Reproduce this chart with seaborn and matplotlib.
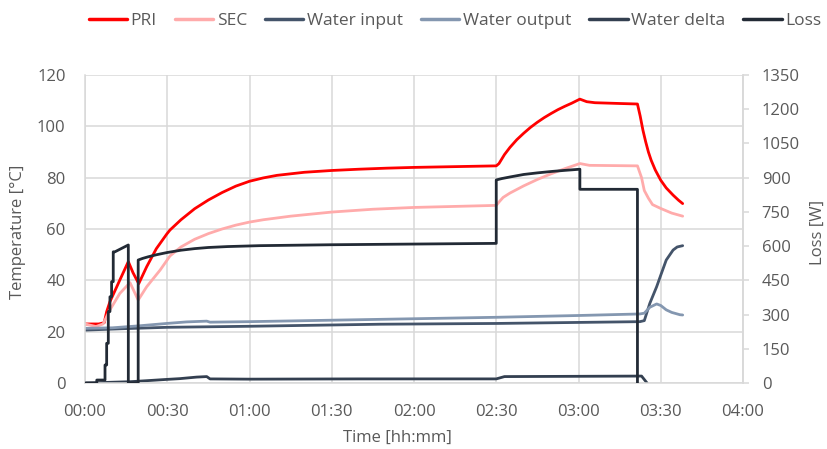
import matplotlib
matplotlib.use("Agg")
import matplotlib.pyplot as plt
from matplotlib.lines import Line2D
import seaborn as sns
import numpy as np

# ---------------- data (time in minutes) ----------------
pri_t = [0, 5, 7, 7.9, 9.1, 12.7, 15.8, 17.5, 19.6, 22.5, 26, 29.8, 31, 35, 40, 45, 50, 55, 60,
         65, 70, 80, 90, 100, 110, 120, 130, 140, 150, 151, 153, 155, 157.5, 160, 162.5, 165,
         167.5, 170, 172.5, 175, 177.5, 180.5, 183, 186, 195, 201.5, 202.5, 203.5, 204.5, 205.5,
         206.5, 208, 210, 212, 214.5, 216.5, 218]
pri_v = [23.0, 23.0, 23.5, 27.8, 31.7, 40.1, 47.3, 43.0, 38.7, 45.3, 52.3, 58.0, 59.6, 63.6, 67.9,
         71.3, 74.2, 76.7, 78.6, 79.9, 80.9, 82.1, 82.8, 83.3, 83.7, 84.0, 84.2, 84.4, 84.6, 85.5,
         89.0, 91.8, 94.8, 97.3, 99.6, 101.6, 103.4, 105.0, 106.5, 107.8, 109.0, 110.6, 109.6,
         109.2, 108.9, 108.7, 104.0, 98.5, 94.0, 90.0, 86.8, 83.0, 79.0, 76.0, 73.2, 71.2, 69.9]

sec_t = [0, 4, 6.6, 9.1, 12.7, 16.4, 18, 19.4, 22.5, 27.4, 31, 35, 40, 45, 50, 55, 60, 65, 75,
         90, 105, 120, 135, 150, 151, 152.5, 155, 160, 165, 170, 175, 180.5, 184, 201.5, 203,
         204, 205.5, 207, 210, 214, 218]
sec_v = [23.0, 22.0, 23.0, 28.5, 34.9, 39.1, 35.5, 32.3, 37.5, 44.0, 49.5, 53.0, 56.0, 58.2, 60.0,
         61.5, 62.7, 63.6, 65.0, 66.6, 67.7, 68.4, 68.8, 69.2, 70.5, 72.3, 74.0, 76.8, 79.3, 81.5,
         83.5, 85.5, 84.8, 84.6, 80.0, 75.0, 72.0, 69.5, 68.0, 66.2, 65.0]

win_t = [0, 15, 30, 60, 107.6, 150, 202.4, 204, 206, 208.5, 210, 212, 214.5, 216, 218]
win_v = [20.6, 21.2, 21.7, 22.1, 22.9, 23.2, 23.9, 24.3, 31.0, 37.5, 42.0, 47.9, 51.8, 53.0, 53.5]

wout_t = [0, 10, 20, 29.8, 37, 44.4, 45.6, 60, 107.6, 150, 180, 202.4, 204, 206, 208.5, 210,
          212, 214, 217, 218]
wout_v = [21.3, 21.5, 22.3, 23.2, 23.8, 24.1, 23.7, 23.9, 24.8, 25.6, 26.3, 26.9, 27.2, 29.5,
          30.8, 30.2, 28.5, 27.5, 26.6, 26.5]

wdel_t = [0, 4, 10, 16.4, 22.5, 29.8, 34.6, 40.7, 44.4, 45.6, 60, 100, 150, 153, 203, 205]
wdel_v = [0.0, 0.1, 0.3, 0.5, 0.9, 1.4, 1.7, 2.3, 2.5, 1.6, 1.5, 1.6, 1.6, 2.5, 2.7, 0.0]

loss_t = [0, 4.3, 4.3, 7.3, 7.3, 7.9, 7.9, 8.5, 8.5, 9.1, 9.1, 9.7, 9.7, 10.3, 10.3, 10.9,
          15.8, 15.8, 19.4, 19.4, 21, 23, 26, 30, 35, 40, 45, 52, 63.8, 90, 120, 150, 150, 152,
          155, 160, 165, 170, 175, 180.5, 180.5, 201.5, 201.5]
loss_w = [0, 0, 13, 13, 79, 79, 174, 174, 313, 313, 378, 378, 444, 444, 575, 575,
          605, 0, 0, 539, 546, 553, 562, 572, 582, 589, 594, 598, 602, 606, 609, 612, 890, 896,
          903, 914, 921, 927, 932, 937, 849, 849, 0]

series_names = ["PRI", "SEC", "Water input", "Water output", "Water delta", "Loss"]
series_colors = ["#FF0000", "#FFABAB", "#44546A", "#8497B0", "#333F50", "#222A35"]

xtick_vals = [0, 30, 60, 90, 120, 150, 180, 210, 240]
xtick_labels = ["00:00", "00:30", "01:00", "01:30", "02:00", "02:30", "03:00", "03:30", "04:00"]
ytick_left = [0, 20, 40, 60, 80, 100, 120]
ytick_right = [0, 150, 300, 450, 600, 750, 900, 1050, 1200, 1350]

# ---------------- style ----------------
sns.set_style("white")
plt.rcParams["font.family"] = ["Open Sans", "DejaVu Sans"]
TXT = "#595959"
GRID = "#D9D9D9"
FS = 12

fig = plt.figure(figsize=(8.27, 4.49), dpi=100)
ax = fig.add_axes([85 / 827, 1 - 383 / 449, (743 - 85) / 827, (383 - 75) / 449])
ax2 = ax.twinx()

lw = 2.0
data_left = [(pri_t, pri_v), (sec_t, sec_v), (win_t, win_v), (wout_t, wout_v), (wdel_t, wdel_v)]
for (t, v), c in zip(data_left, series_colors[:5]):
    sns.lineplot(x=np.array(t), y=np.array(v), ax=ax, color=c, lw=lw, sort=False,
                 estimator=None, legend=False)
sns.lineplot(x=np.array(loss_t), y=np.array(loss_w), ax=ax2, color=series_colors[5], lw=lw,
             sort=False, estimator=None, legend=False)

ax.set_xlim(0, 240)
ax.set_ylim(0, 120)
ax2.set_ylim(0, 1350)
ax.set_xticks(xtick_vals)
ax.set_xticklabels(xtick_labels)
ax.set_yticks(ytick_left)
ax2.set_yticks(ytick_right)

ax.grid(True, color=GRID, lw=1.1)
ax.set_axisbelow(True)
ax2.grid(False)

ax.spines["top"].set_visible(False)
ax2.spines["top"].set_visible(False)
for a in (ax, ax2):
    for sp in ["left", "bottom", "right"]:
        a.spines[sp].set_color(GRID)
        a.spines[sp].set_linewidth(1.1)
ax2.spines["left"].set_visible(False)
ax2.spines["bottom"].set_visible(False)

ax.tick_params(axis="both", length=0, labelsize=FS, labelcolor=TXT)
ax.tick_params(axis="y", pad=14)
ax.tick_params(axis="x", pad=15)
ax2.tick_params(axis="y", length=4, width=1.1, color=GRID, pad=9.5, labelsize=FS, labelcolor=TXT)

ax.set_xlabel("Time [hh:mm]", fontsize=FS, color=TXT, va="center")
ax.set_ylabel("Temperature [°C]", fontsize=FS, color=TXT, va="center")
ax2.set_ylabel("Loss [W]", fontsize=FS, color=TXT, va="center", rotation=90)
ax.xaxis.set_label_coords((397 - 85) / 658, (383 - 438) / 308)
ax.yaxis.set_label_coords((18 - 85) / 658, 0.49)
ax2.yaxis.set_label_coords((818 - 85) / 658, 0.49)

handles = [Line2D([0], [0], color=c, lw=2.5) for c in series_colors]
fig.legend(handles, series_names, loc="center left", bbox_to_anchor=(89 / 827, 1 - 21 / 449),
           ncol=6, frameon=False, fontsize=12.5, handlelength=2.2, handletextpad=0.2,
           columnspacing=1.05, borderpad=0, borderaxespad=0, labelcolor=TXT)

fig.savefig("out.png", dpi=100)
